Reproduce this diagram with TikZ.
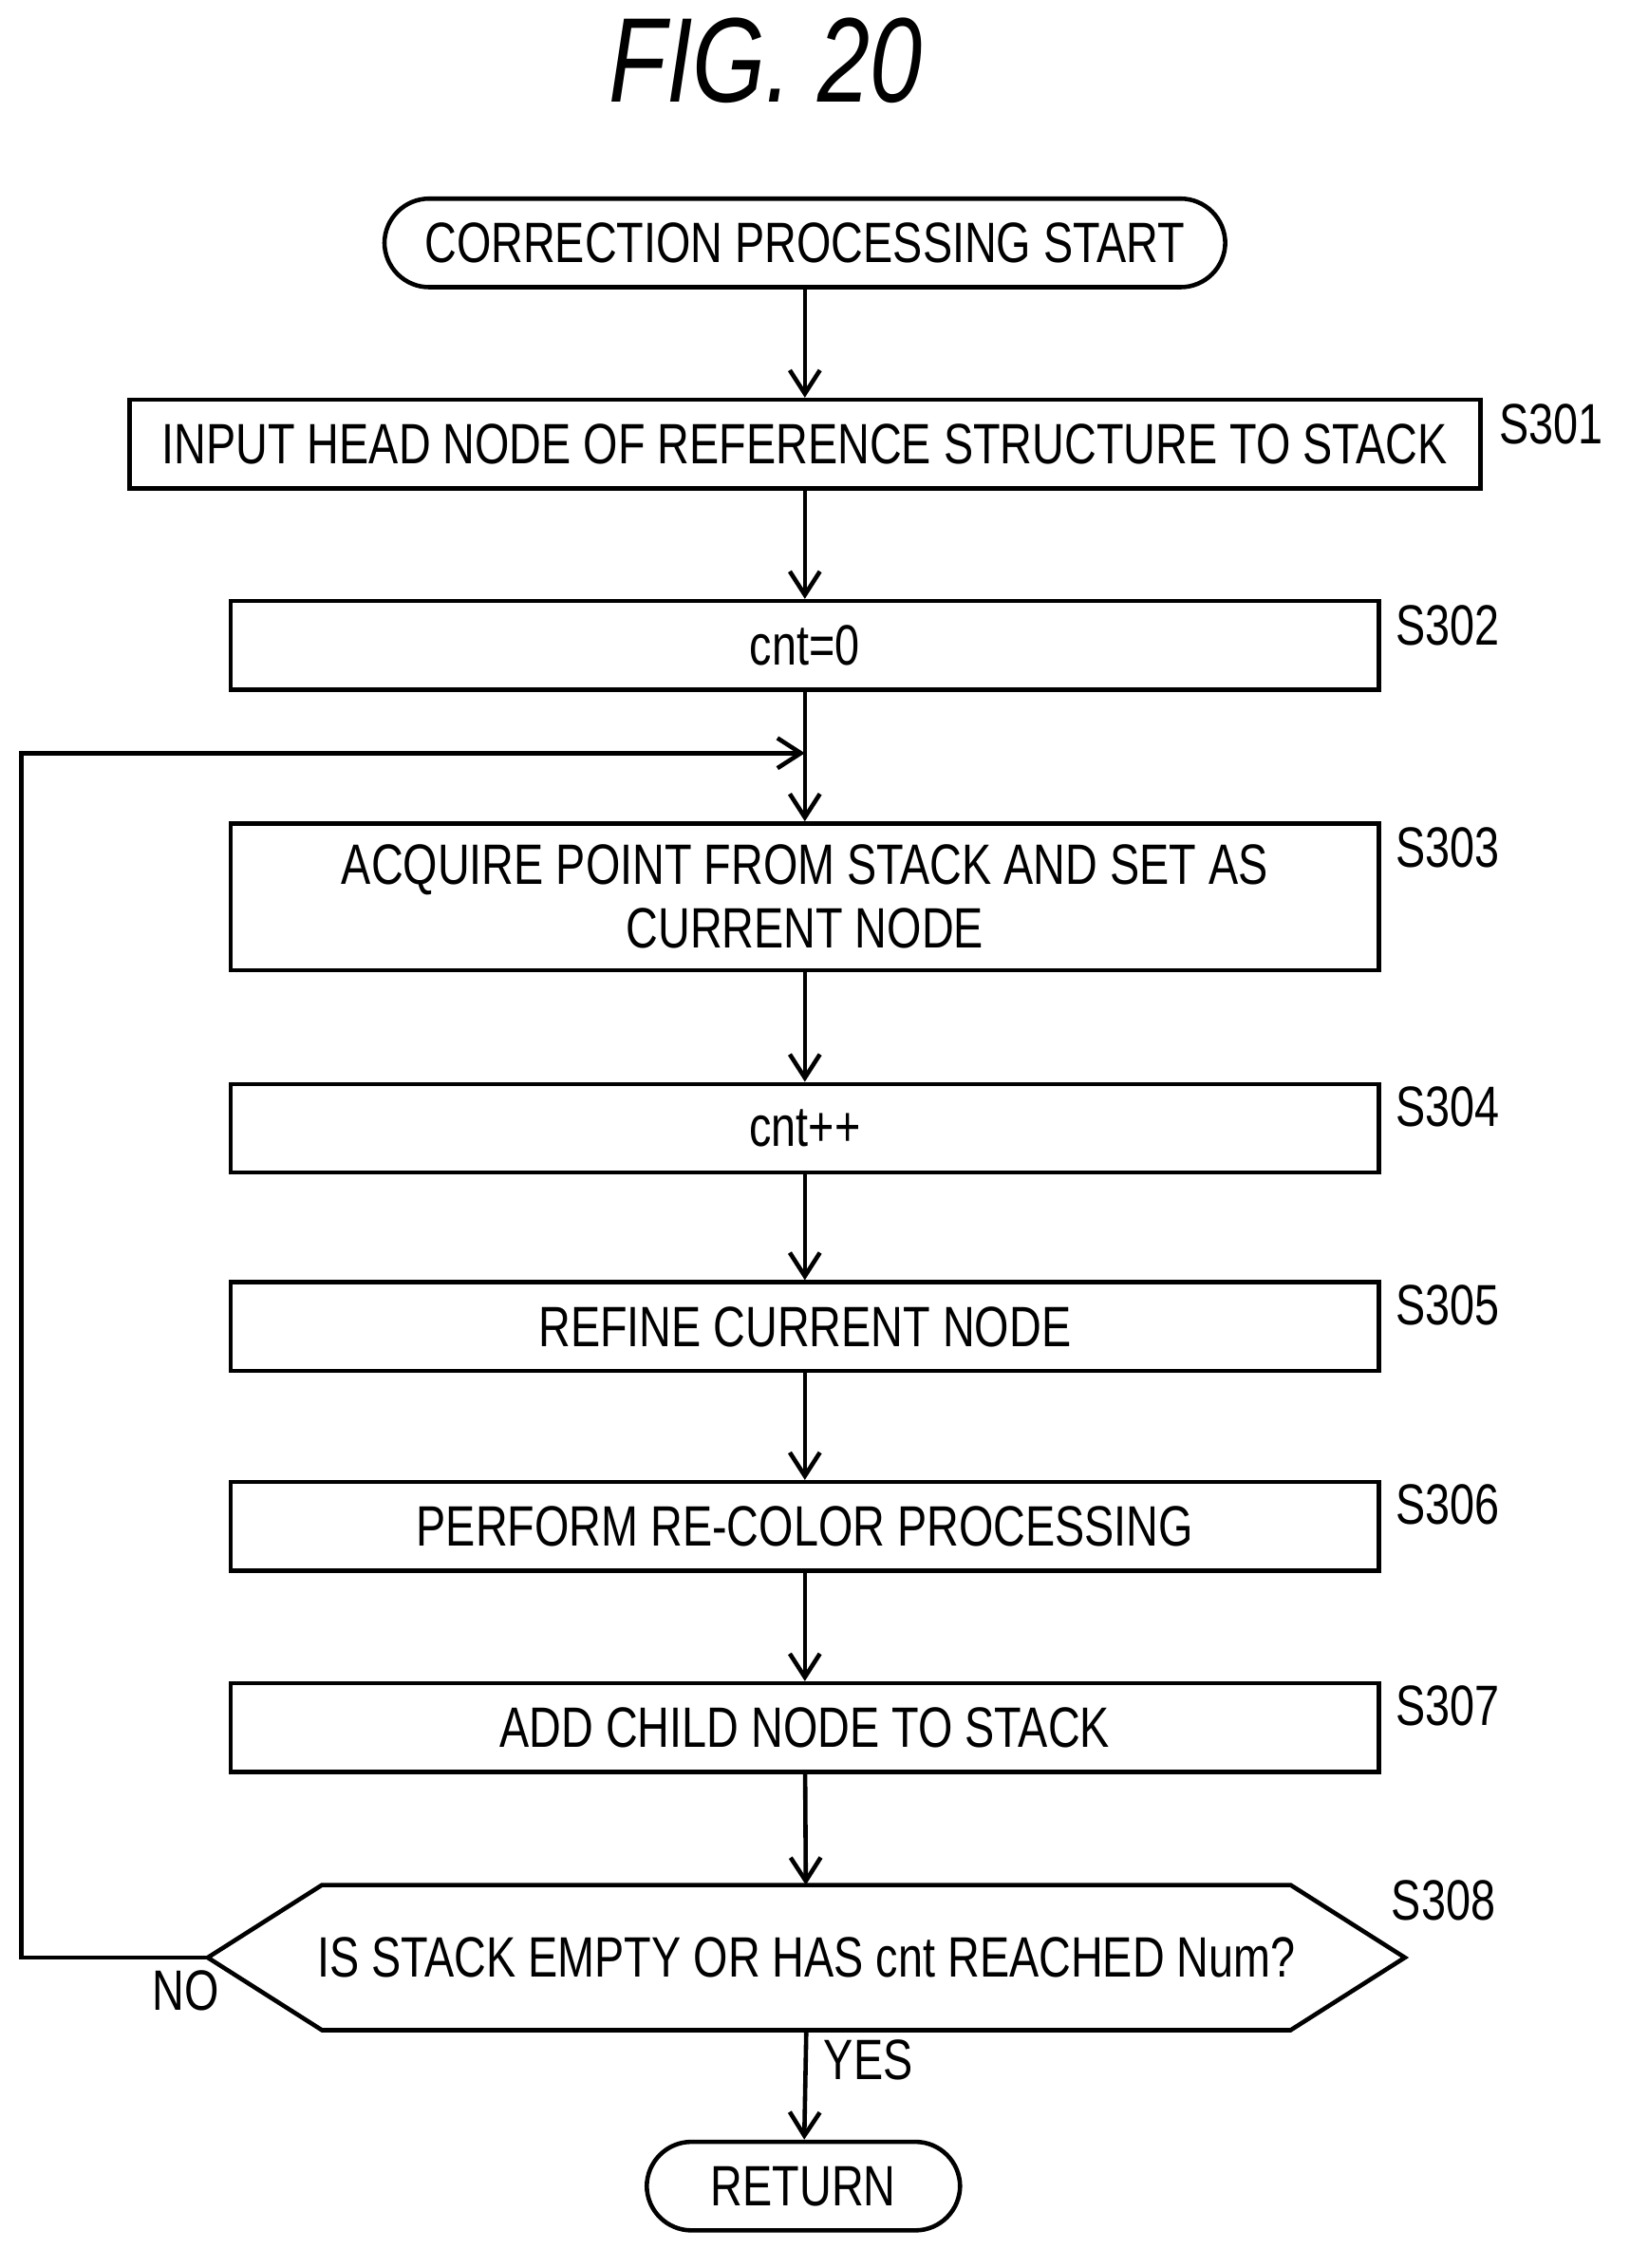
\documentclass[tikz,border=0pt]{standalone}
\usepackage{fontspec}
\setmainfont{Liberation Sans}[FakeStretch=0.78]
\usetikzlibrary{positioning}
\usetikzlibrary{arrows.meta}
\usetikzlibrary{calc}

\tikzset{
    procbox/.style={draw, line width=1.3pt, minimum height=0.93cm, inner sep=0pt},
    term/.style={draw, line width=1.3pt, rounded corners=0.47cm, minimum height=0.93cm, inner sep=0pt},
    flow/.style={line width=1.3pt, -{Straight Barb[length=7pt,width=9pt]}},
    tag/.style={anchor=west, font=\fontsize{17}{19}\selectfont}
}

\begin{document}
\begin{tikzpicture}[x=0.01509cm, y=-0.01509cm, font=\fontsize{17}{19}\selectfont]
        \useasboundingbox (0,0) rectangle (1134,1578);
        \node[font=\itshape\fontsize{36}{40}\selectfont] (title) at (533,42) {FIG. 20};

        \node[term, minimum width=585*0.01509cm] (start) at (560,169) {CORRECTION PROCESSING START};
        \node[procbox, minimum width=940*0.01509cm] (s301) at (560,309) {INPUT HEAD NODE OF REFERENCE STRUCTURE TO STACK};
        \node[procbox, minimum width=799*0.01509cm] (s302) at (560,449) {cnt=0};
        \node[procbox, minimum width=799*0.01509cm, minimum height=1.54cm, align=center] (s303) at (560,624) {ACQUIRE POINT FROM STACK AND SET AS\\CURRENT NODE};
        \node[procbox, minimum width=799*0.01509cm] (s304) at (560,785) {cnt++};
        \node[procbox, minimum width=799*0.01509cm] (s305) at (560,923) {REFINE CURRENT NODE};
        \node[procbox, minimum width=799*0.01509cm] (s306) at (560,1062) {PERFORM RE-COLOR PROCESSING};
        \node[procbox, minimum width=799*0.01509cm] (s307) at (560,1202) {ADD CHILD NODE TO STACK};
        \node[minimum width=832*0.01509cm, minimum height=1.51cm, inner sep=0pt] (s308) at (561,1362) {IS STACK EMPTY OR HAS cnt REACHED Num?};
        \draw[line width=1.3pt] (s308.west) -- ([xshift=1.2cm]s308.north west) -- ([xshift=-1.2cm]s308.north east)
            -- (s308.east) -- ([xshift=-1.2cm]s308.south east) -- ([xshift=1.2cm]s308.south west) -- cycle;
        \node[term, minimum width=218*0.01509cm] (ret) at (559,1521) {RETURN};

        \node[tag] at (1035,295) {S301};
        \foreach \n/\y in {302/435, 303/590, 304/770, 305/908, 306/1047, 307/1187}
            \node[tag] at (963,\y) {S\n};
        \node[tag] at (960,1322) {S308};
        \node[tag] (no) at (98,1385) {NO};
        \node[tag] (yes) at (565,1433) {YES};

        \coordinate (loopin) at (560,524);
        \draw[flow] (start) -- (s301);
        \draw[flow] (s301) -- (s302);
        \draw[line width=1.3pt] (s302) -- (loopin);
        \draw[flow] (loopin) -- (s303);
        \draw[flow] (s303) -- (s304);
        \draw[flow] (s304) -- (s305);
        \draw[flow] (s305) -- (s306);
        \draw[flow] (s306) -- (s307);
        \draw[flow] (s307) -- (s308);
        \draw[flow] (s308.south) -- (ret);
        \draw[flow] (s308.west) -- (15,1362) -- (15,524) -- (loopin);
    \end{tikzpicture}
\end{document}
